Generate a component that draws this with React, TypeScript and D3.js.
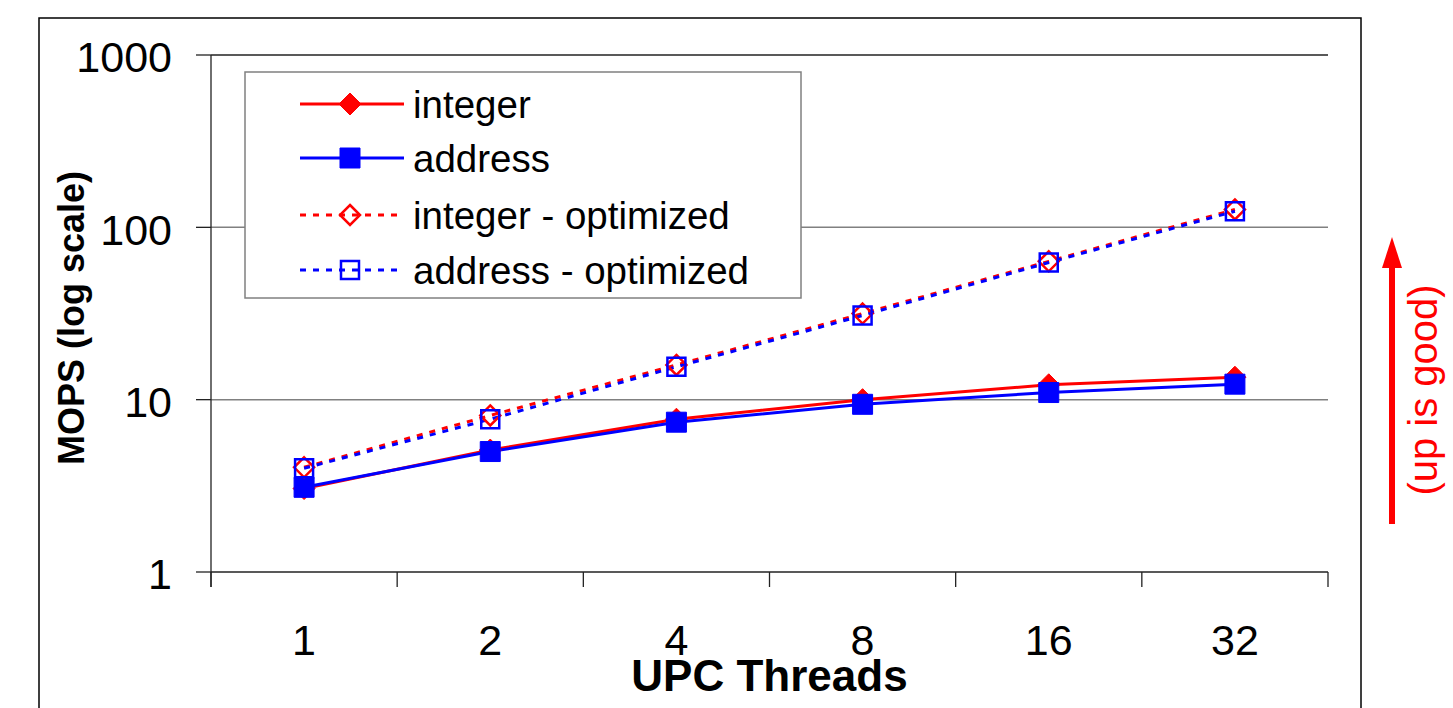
import React from 'react';
import { scaleBand, scaleLog, line } from 'd3';

const width = 1453;
const height = 708;
const plotLeft = 211;
const plotRight = 1328;
const plotTop = 55;
const plotBottom = 572;
const font = '"Liberation Sans", Arial, sans-serif';

// data (MOPS, log scale)
const threads = ['1', '2', '4', '8', '16', '32'];
const integer = [3.05, 5.1, 7.7, 10.0, 12.2, 13.5];
const address = [3.1, 5.0, 7.4, 9.4, 11.0, 12.3];
const integerOpt = [4.05, 8.1, 15.9, 31.6, 63.5, 127];
const addressOpt = [4.0, 7.7, 15.5, 30.8, 62.5, 124];
const yTicks = [1, 10, 100, 1000];

const seriesNames = ['integer', 'address', 'integer - optimized', 'address - optimized'];
const seriesValues = [integer, address, integerOpt, addressOpt];
const seriesColors = ['#ff0000', '#0000ff', '#ff0000', '#0000ff'];
const seriesMarker = ['diamond', 'square', 'diamond', 'square'];
const seriesFilled = [true, true, false, false];
const seriesDashed = [false, false, true, true];

const markerPath = (type: string, filled: boolean) => {
    if (type === 'diamond') {
        const r = filled ? 11 : 10;
        return `M0,${-r}L${r},0L0,${r}L${-r},0Z`;
    }
    const h = filled ? 10 : 9;
    return `M${-h},${-h}H${h}V${h}H${-h}Z`;
};

const Marker = ({ i, x, y }: { i: number; x: number; y: number }) => (
    <path
        d={markerPath(seriesMarker[i], seriesFilled[i])}
        transform={`translate(${x},${y})`}
        fill={seriesFilled[i] ? seriesColors[i] : 'none'}
        stroke={seriesColors[i]}
        strokeWidth={seriesFilled[i] ? 1 : 2.5}
    />
);

const App = () => {
    const x = scaleBand<string>().domain(threads).range([plotLeft, plotRight]).padding(0);
    const y = scaleLog().domain([1, 1000]).range([plotBottom, plotTop]);
    const cx = (t: string) => (x(t) as number) + x.bandwidth() / 2;
    const lineMaker = line<number>().x((_, i) => cx(threads[i])).y(d => y(d));
    const boundaries = threads.map(t => x(t) as number).concat([plotRight]);

    const legendX = 245;
    const legendY = 72;
    const legendRows = [104, 158, 215, 270];

    return (
        <div style={{ position: 'absolute', left: 0, top: 0 }}>
            <svg width={width} height={height} style={{ display: 'block', background: '#fff' }} fontFamily={font}>
                {/* outer frame */}
                <rect x={39} y={18} width={1322} height={720} fill="none" stroke="#000" strokeWidth={1.5} />

                {/* gridlines */}
                {yTicks.slice(1).map(v => (
                    <line key={v} x1={plotLeft} x2={plotRight} y1={y(v)} y2={y(v)}
                        stroke={v === 1000 ? '#222' : '#808080'} strokeWidth={1.5} />
                ))}

                {/* axes */}
                <line x1={plotLeft} x2={plotLeft} y1={plotTop} y2={plotBottom + 15} stroke="#222" strokeWidth={1.3} />
                <line x1={plotLeft} x2={plotRight} y1={plotBottom} y2={plotBottom} stroke="#222" strokeWidth={1.3} />
                {yTicks.map(v => (
                    <g key={v}>
                        <line x1={plotLeft - 15} x2={plotLeft} y1={y(v)} y2={y(v)} stroke="#222" strokeWidth={1.3} />
                        <text x={172} y={y(v)} dy="0.4em" textAnchor="end" fontSize={43} fill="#000">{v}</text>
                    </g>
                ))}
                {boundaries.map((b, i) => (
                    <line key={i} x1={b} x2={b} y1={plotBottom} y2={plotBottom + 15} stroke="#222" strokeWidth={1.3} />
                ))}
                {threads.map(t => (
                    <text key={t} x={cx(t)} y={655} textAnchor="middle" fontSize={43} fill="#000">{t}</text>
                ))}

                <text x={(plotLeft + plotRight) / 2} y={691} textAnchor="middle" fontSize={44} fontWeight="bold">UPC Threads</text>
                <text transform="translate(84,318) rotate(-90)" textAnchor="middle" fontSize={36} fontWeight="bold">MOPS (log scale)</text>

                {/* series lines */}
                {seriesValues.map((vals, i) => (
                    <path key={i} d={lineMaker(vals) as string} fill="none" stroke={seriesColors[i]}
                        strokeWidth={3} strokeDasharray={seriesDashed[i] ? '6,7' : undefined} />
                ))}
                {/* markers */}
                {seriesValues.map((vals, i) => vals.map((v, j) => (
                    <Marker key={`${i}-${j}`} i={i} x={cx(threads[j])} y={y(v)} />
                )))}

                {/* legend */}
                <rect x={legendX} y={legendY} width={556} height={226} fill="#fff" stroke="#808080" strokeWidth={1.5} />
                {seriesNames.map((name, i) => (
                    <g key={name}>
                        <line x1={300} x2={404} y1={legendRows[i]} y2={legendRows[i]} stroke={seriesColors[i]}
                            strokeWidth={3} strokeDasharray={seriesDashed[i] ? '6,7' : undefined} />
                        <Marker i={i} x={350} y={legendRows[i]} />
                        <text x={413} y={legendRows[i]} dy="0.36em" fontSize={38.5} fill="#000">{name}</text>
                    </g>
                ))}

                {/* up is good arrow */}
                <line x1={1392} x2={1392} y1={266} y2={524} stroke="#ff0000" strokeWidth={6} />
                <path d="M1392,237L1402,268L1382,268Z" fill="#ff0000" />
                <text transform="translate(1437,390) rotate(-90)" textAnchor="middle" fontSize={40} fill="#ff0000">(up is good)</text>
            </svg>
        </div>
    );
};

export default App;
